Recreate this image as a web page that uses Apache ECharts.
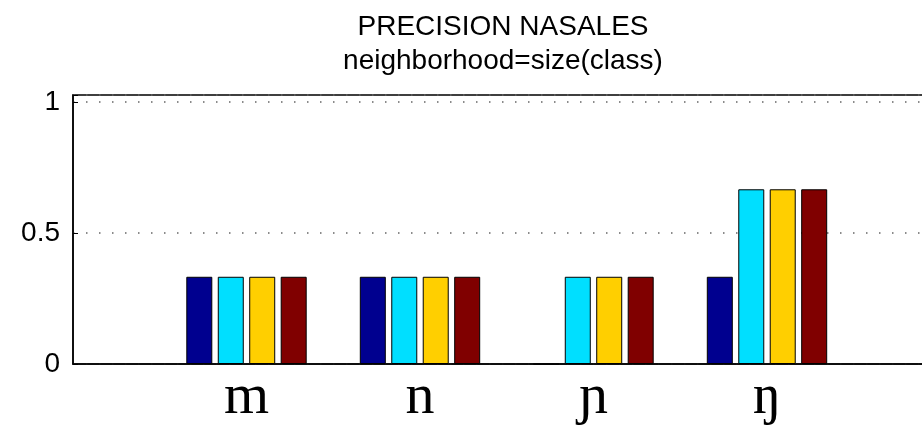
<!DOCTYPE html>
<html>
<head>
<meta charset="utf-8">
<script src="https://cdn.jsdelivr.net/npm/echarts@6/dist/echarts.min.js"></script>
<style>
html,body{margin:0;padding:0;background:#fff;overflow:hidden;}
#chart{width:922px;height:431px;}
</style>
</head>
<body>
<div id="chart"></div>
<script>
// Data
const categories = ['', 'm', 'n', 'ɲ', 'ŋ', ''];
const series1 = [null, 0.333, 0.333, 0, 0.333, null];
const series2 = [null, 0.333, 0.333, 0.333, 0.667, null];
const series3 = [null, 0.333, 0.333, 0.333, 0.667, null];
const series4 = [null, 0.333, 0.333, 0.333, 0.667, null];
const yTicks = [0, 0.5, 1];
const colors = ['#00008F', '#00DFFF', '#FFCF00', '#800000'];

const chart = echarts.init(document.getElementById('chart'));
const mk = (data, i) => ({
  type: 'bar',
  data: data,
  barWidth: 26,
  barGap: '21%',
  itemStyle: { color: colors[i], borderColor: '#000', borderWidth: 1 },
  animation: false
});
chart.setOption({
  animation: false,
  title: {
    text: 'PRECISION NASALES',
    subtext: 'neighborhood=size(class)',
    left: 498,
    top: 8,
    textAlign: 'center',
    itemGap: 6,
    textStyle: { fontFamily: 'Liberation Sans', fontSize: 28, fontWeight: 'normal', color: '#000' },
    subtextStyle: { fontFamily: 'Liberation Sans', fontSize: 28, color: '#000' }
  },
  grid: {
    left: 73, top: 95, height: 269, width: 867.5,
    outerBoundsMode: 'none', containLabel: false,
    show: true, borderColor: '#000', borderWidth: 1.5, backgroundColor: 'transparent'
  },
  xAxis: {
    type: 'category',
    data: categories,
    boundaryGap: false,
    axisLine: { lineStyle: { color: '#000', width: 1.5 } },
    axisTick: { show: false },
    splitLine: { show: false },
    axisLabel: {
      interval: 0, margin: 5, color: '#000',
      fontFamily: 'Liberation Serif, DejaVu Serif, serif', fontSize: 58
    }
  },
  yAxis: {
    type: 'value',
    min: 0, max: 1.027, interval: 0.5,
    axisLine: { show: true, lineStyle: { color: '#000', width: 1.5 } },
    axisTick: { show: true, inside: true, length: 5, lineStyle: { color: '#000' } },
    axisLabel: {
      margin: 13, color: '#000', fontFamily: 'Liberation Sans', fontSize: 28,
      formatter: v => (yTicks.indexOf(Math.round(v * 1000) / 1000) >= 0 ? String(Math.round(v * 10) / 10) : '')
    },
    splitLine: { show: true, lineStyle: { color: '#666', width: 1.5, type: [1.5, 11.5] } }
  },
  series: [mk(series1, 0), mk(series2, 1), mk(series3, 2), mk(series4, 3)]
});
</script>
</body>
</html>
